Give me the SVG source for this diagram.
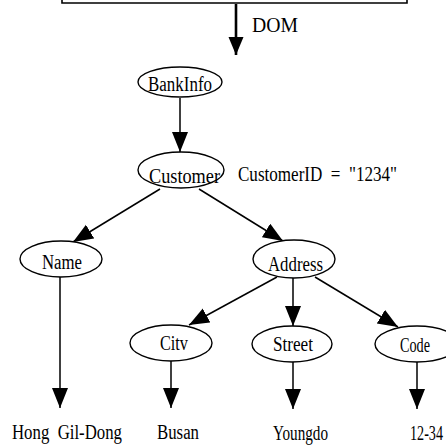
<svg xmlns="http://www.w3.org/2000/svg" width="446" height="445" viewBox="0 0 446 445">
  <style>
    .bg { fill: #ffffff; }
    .node ellipse { fill: #ffffff; stroke: #000000; stroke-width: 1.4; }
    .lbl { font-family: "Liberation Serif", "Times New Roman", serif; font-size: 20px; fill: #000000; }
    .edge { stroke: #000000; stroke-width: 1.5; fill: none; marker-end: url(#head); }
    .frame { stroke: #000000; stroke-width: 1.6; fill: none; }
  </style>
  <defs>
    <marker id="head" markerUnits="userSpaceOnUse" markerWidth="22" markerHeight="17" refX="20" refY="8" orient="auto">
      <path d="M0,0 L20,8 L0,16 Z" fill="#000000"/>
    </marker>
    <marker id="bighead" markerUnits="userSpaceOnUse" markerWidth="20" markerHeight="16" refX="18" refY="7.5" orient="auto">
      <path d="M0,0 L18,7.5 L0,15 Z" fill="#000000"/>
    </marker>
  </defs>

  <rect class="bg" x="0" y="0" width="446" height="445"/>

  <!-- bottom edge of the source document box -->
  <path class="frame" d="M62,-2 V3 H407 V-2"/>

  <!-- DOM transformation arrow -->
  <g id="dom-arrow">
    <line x1="236" y1="4" x2="236" y2="55" stroke="#000000" stroke-width="2.6" marker-end="url(#bighead)"/>
    <text class="lbl" x="252" y="32" textLength="46" lengthAdjust="spacingAndGlyphs">DOM</text>
  </g>

  <!-- connectors -->
  <g id="connectors">
    <line class="edge" x1="180" y1="98" x2="180" y2="152"/>
    <line class="edge" x1="160" y1="189" x2="73" y2="242"/>
    <line class="edge" x1="199" y1="189" x2="283" y2="241"/>
    <line class="edge" x1="277" y1="277" x2="189" y2="325"/>
    <line class="edge" x1="293" y1="278" x2="293" y2="326"/>
    <line class="edge" x1="315" y1="277" x2="398" y2="327"/>
    <line class="edge" x1="60" y1="277" x2="60" y2="408"/>
    <line class="edge" x1="171" y1="361" x2="171" y2="408"/>
    <line class="edge" x1="293" y1="362" x2="293" y2="409"/>
    <line class="edge" x1="417" y1="362" x2="417" y2="409"/>
  </g>

  <g id="bankinfo" class="node">
    <ellipse cx="180" cy="82" rx="42" ry="15"/>
    <text class="lbl" x="148" y="91" textLength="64" lengthAdjust="spacingAndGlyphs">BankInfo</text>
  </g>

  <g id="customer" class="node">
    <ellipse cx="181" cy="170" rx="43" ry="18"/>
    <text class="lbl" x="149" y="183" textLength="71" lengthAdjust="spacingAndGlyphs">Customer</text>
  </g>
  <text id="customer-attr" class="lbl" x="238" y="181" textLength="159" lengthAdjust="spacingAndGlyphs" word-spacing="5">CustomerID = "1234"</text>

  <g id="name" class="node">
    <ellipse cx="61" cy="259" rx="41" ry="18"/>
    <text class="lbl" x="42" y="269" textLength="40" lengthAdjust="spacingAndGlyphs">Name</text>
  </g>

  <g id="address" class="node">
    <ellipse cx="294" cy="259" rx="41" ry="19"/>
    <text class="lbl" x="268" y="271" textLength="55" lengthAdjust="spacingAndGlyphs">Address</text>
  </g>

  <g id="city" class="node">
    <ellipse cx="171" cy="343" rx="41" ry="18"/>
    <text class="lbl" x="160" y="350" textLength="28" lengthAdjust="spacingAndGlyphs">Citv</text>
  </g>

  <g id="street" class="node">
    <ellipse cx="292" cy="344" rx="40" ry="18"/>
    <text class="lbl" x="273" y="351" textLength="40" lengthAdjust="spacingAndGlyphs">Street</text>
  </g>

  <g id="code" class="node">
    <ellipse cx="417" cy="344" rx="42" ry="18"/>
    <text class="lbl" x="400" y="352" textLength="30" lengthAdjust="spacingAndGlyphs">Code</text>
  </g>

  <!-- leaf text values -->
  <g id="values">
    <text class="lbl" x="12" y="439" textLength="110" lengthAdjust="spacingAndGlyphs" word-spacing="5">Hong Gil-Dong</text>
    <text class="lbl" x="157" y="439" textLength="42" lengthAdjust="spacingAndGlyphs">Busan</text>
    <text class="lbl" x="273" y="440" textLength="55" lengthAdjust="spacingAndGlyphs">Youngdo</text>
    <text class="lbl" x="443" y="440" font-size="18" text-anchor="end" textLength="33" lengthAdjust="spacingAndGlyphs">12-34</text>
  </g>
</svg>
